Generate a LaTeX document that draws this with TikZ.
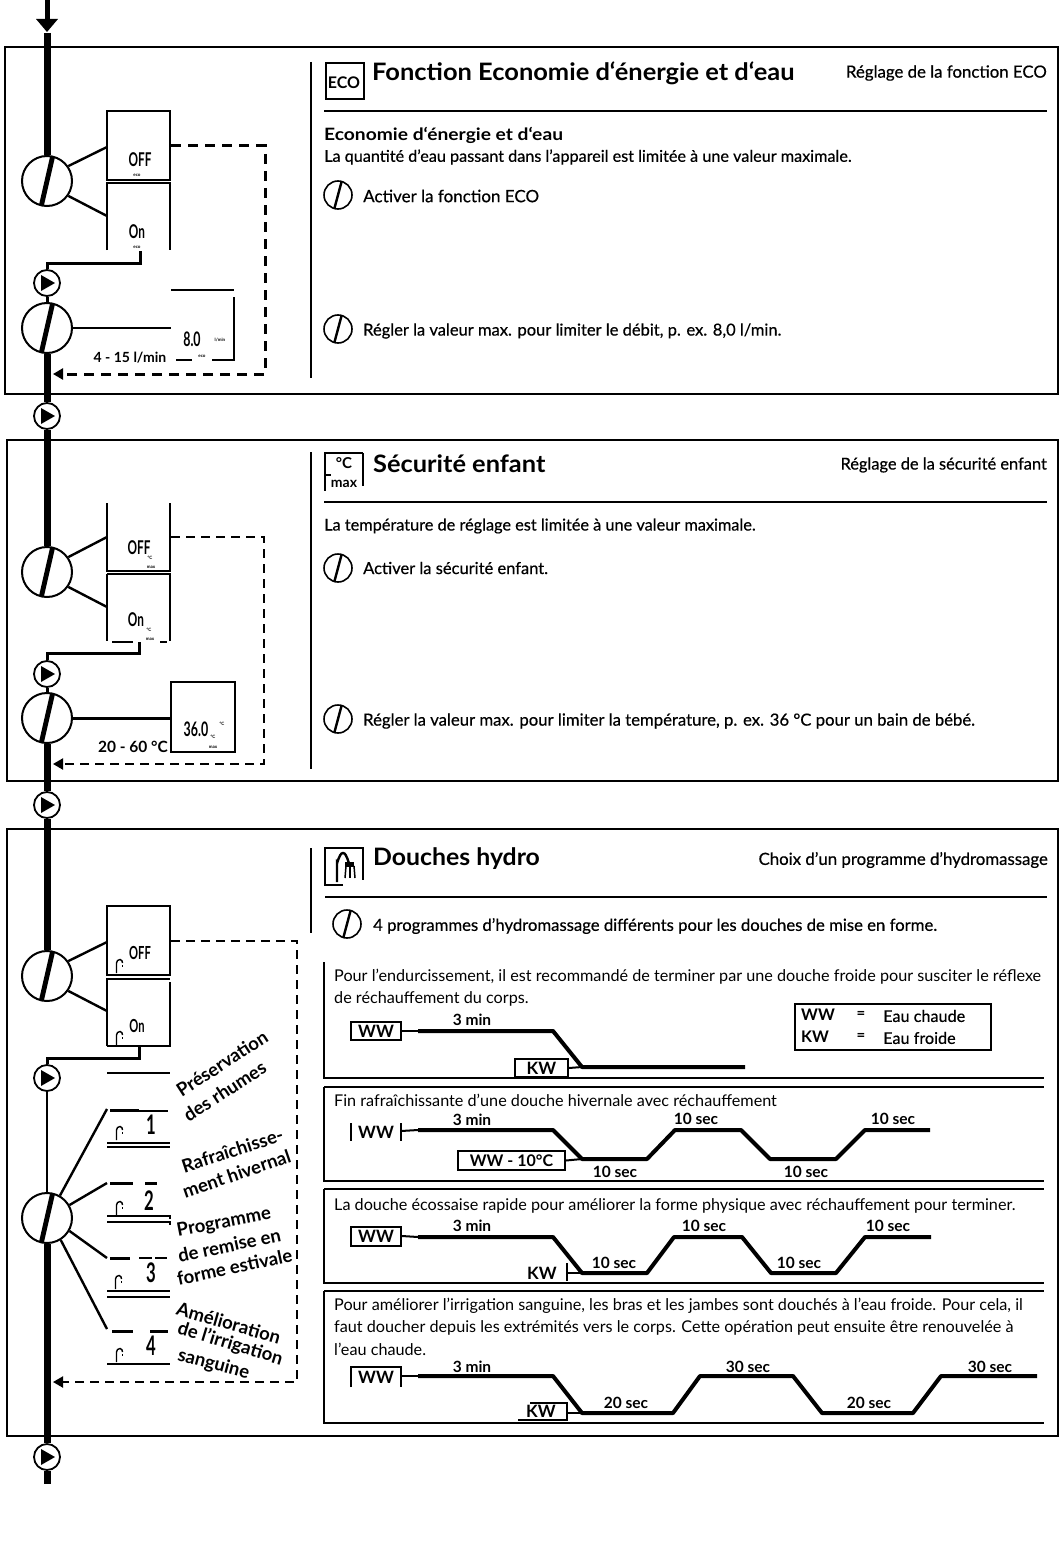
\documentclass[tikz,border=0pt]{standalone}
\usepackage{fontspec}
\setmainfont{Lato}
\newfontfamily\lsemi[FakeBold=0.5]{Lato}
\usetikzlibrary{arrows.meta,calc}
\newcommand{\lcd}[2][14]{\scalebox{0.62}[1]{\fontsize{#1}{#1}\selectfont\bfseries #2}}
\newcommand{\sx}[2]{\scalebox{#1}[1]{#2}}
\newcommand{\semi}[2]{{\fontsize{#1}{18}\selectfont\lsemi #2}}
\tikzset{
 frame/.style={draw,line width=2pt,fill=none},
 flow/.style={line width=7pt},
 wire/.style={line width=2.4pt},
 thinwire/.style={line width=2pt},
 dash3/.style={line width=3pt,dash pattern=on 10pt off 7pt},
 dash2/.style={line width=2pt,dash pattern=on 9pt off 6pt},
 darrow/.style={-{Triangle[length=10pt,width=11pt]}},
 valve/.style={circle,draw,line width=2pt,fill=white,minimum size=50pt,inner sep=0pt,
  path picture={\fill[black] ([xshift=8pt,yshift=24pt]path picture bounding box.center) -- ([xshift=3pt,yshift=24pt]path picture bounding box.center) -- ([xshift=-8pt,yshift=-24pt]path picture bounding box.center) -- ([xshift=-3pt,yshift=-24pt]path picture bounding box.center) -- cycle;}},
 knob/.style={circle,draw,line width=1.6pt,fill=white,minimum size=28pt,inner sep=0pt,
  path picture={\fill[black] ([xshift=5pt,yshift=14pt]path picture bounding box.center) -- ([xshift=2.5pt,yshift=14pt]path picture bounding box.center) -- ([xshift=-5pt,yshift=-14pt]path picture bounding box.center) -- ([xshift=-2.5pt,yshift=-14pt]path picture bounding box.center) -- cycle;}},
 play/.style={circle,draw,line width=1.8pt,fill=white,minimum size=26pt,inner sep=0pt,
  path picture={\fill[black] ([xshift=-6pt,yshift=8pt]path picture bounding box.center) -- ([xshift=8pt]path picture bounding box.center) -- ([xshift=-6pt,yshift=-8pt]path picture bounding box.center) -- cycle;}},
 txt/.style={anchor=west,inner sep=0pt,yshift=-1pt},
 rtxt/.style={anchor=east,inner sep=0pt,yshift=-1pt},
 btxt/.style={anchor=west,inner sep=0pt,yshift=-1pt,font=\fontsize{17}{18}\selectfont\bfseries},
 title/.style={anchor=west,inner sep=0pt,yshift=-2pt,font=\fontsize{24}{26}\selectfont\bfseries},
 ptxt/.style={anchor=west,inner sep=0pt,yshift=-1pt,font=\fontsize{16.2}{18}\selectfont},
 tlab/.style={inner sep=0pt,font=\fontsize{15.5}{18}\selectfont\bfseries},
 wwbox/.style={draw,line width=2pt,inner sep=0pt,font=\fontsize{17}{18}\selectfont\bfseries,anchor=center},
 curve/.style={line width=4pt,line join=round},
 dtext/.style={inner sep=0pt},
 tiny/.style={inner sep=0pt,font=\fontsize{4.5}{5}\selectfont\bfseries},
 side/.style={inner sep=0pt,anchor=west,font=\fontsize{18.5}{25}\selectfont\bfseries},
 showr/.pic={\draw[line width=1.4pt] (-2.5,7) -- (-2.5,-3) to[out=90,in=180] (1,-6.5) to[out=0,in=90] (3.5,-3);\fill (2.5,-1) rectangle (4,1);},
 panel/.style={line width=2pt},
}
\begin{document}
\begin{tikzpicture}[x=1pt,y=-1pt]
\useasboundingbox (0,0) rectangle (1059,1541);
\fill[white] (0,0) rectangle (1059,1541);

% frames
\node[frame,anchor=north west,minimum width=1053pt,minimum height=347pt] (f1) at (4,46) {};
\node[frame,anchor=north west,minimum width=1051pt,minimum height=341pt] (f2) at (6,439) {};
\node[frame,anchor=north west,minimum width=1051pt,minimum height=607pt] (f3) at (6,828) {};

% main flow nodes
\node[valve] (v1) at (47,181) {};
\node[valve] (v2) at (47,328) {};
\node[play] (p1) at (47,283) {};
\node[play] (p2) at (47,416) {};
\node[valve] (v3) at (47,572) {};
\node[valve] (v4) at (47,718) {};
\node[play] (p3) at (47,674) {};
\node[play] (p4) at (47,805) {};
\node[valve] (v5) at (47,976) {};
\node[valve] (v6) at (47,1218) {};
\node[play] (p5) at (47,1078) {};
\node[play] (p6) at (47,1457) {};

\coordinate (start) at (47,0);
\coordinate (arrowtip) at (47,33);
\coordinate (last) at (47,1484);
\draw[line width=5pt] (start) -- (47,20);
\fill (36,19) -- (58,19) -- (47,32) -- cycle;
\draw[flow] (arrowtip) -- (v1.north);
\draw[line width=3pt] (p1.south) -- (v2.north);
\draw[flow] (v2.south) -- (p2.north);
\draw[flow] (p2.south) -- (v3.north);
\draw[line width=3pt] (p3.south) -- (v4.north);
\draw[flow] (v4.south) -- (p4.north);
\draw[flow] (p4.south) -- (v5.north);
\draw[thinwire] (p5.south) -- (v6.north);
\draw[flow] (v6.south) -- (p6.north);
\draw[flow] (p6.south) -- (last);

% separators
\draw[line width=2.6pt] (311,62) -- (311,378);
\draw[line width=2.6pt] (311,452) -- (311,769);
\draw[line width=2.6pt] (311,848) -- (311,933);

%% ---- section 1 left
\coordinate (d1tl) at (107,111);
\coordinate (d1tr) at (170,111);
\coordinate (d1bl) at (107,180);
\coordinate (d1br) at (170,180);
\coordinate (d2tl) at (107,183);
\coordinate (d2tr) at (170,183);
\coordinate (d2bl) at (107,250);
\coordinate (d2br) at (170,250);
\draw[thinwire] (d1bl) -- (d1tl) -- (d1tr) -- (d1br) -- cycle;
\draw[thinwire] (d2bl) -- (d2tl) -- (d2tr) -- (d2br);
\coordinate (c1a) at (107,147);
\coordinate (c1b) at (107,216);
\draw[wire] (v1.35) -- (c1a);
\draw[wire] (v1.-35) -- (c1b);
\node[dtext] (t1off) at (140,160) {\lcd[19]{OFF}};
\node[tiny] (t1e1) at (137,175) {eco};
\node[dtext] (t1on) at (137,232) {\lcd[19]{On}};
\node[tiny] (t1e2) at (137,247) {eco};
\coordinate (c1c) at (140,251);
\draw[line width=3pt] (c1c) -- (140,263) -- (47,263) -- (p1.north);
\draw[line width=2pt] (v2.east) -- (171,328);
\coordinate (d3a) at (171,290);
\coordinate (d3b) at (234,290);
\draw[thinwire] (d3a) -- (d3b);
\draw[thinwire] (234,297) -- (234,360) -- (212,360);
\draw[thinwire] (176,360) -- (192,360);
\node[dtext] (t18) at (192,339) {\lcd[20]{8.0}};
\node[tiny] (t1l) at (220,340) {l/min};
\node[tiny] (t1e3) at (202,356) {eco};
\node[inner sep=0pt,font=\fontsize{14}{16}\selectfont\bfseries] (t1r) at (130,358) {4 - 15 l/min};
\draw[dash3,darrow] (171,146) -- (265,146) -- (265,374) -- (53,374);

%% ---- section 2 left
\draw[thinwire] (107,503) -- (107,571) -- (170,571) -- (170,503);
\draw[thinwire] (107,574) -- (170,574) -- (170,641);
\draw[thinwire] (107,574) -- (107,641);
\draw[thinwire] (112,642) -- (133,642);
\draw[thinwire] (160,642) -- (167,642);
\coordinate (c2a) at (107,537);
\coordinate (c2b) at (107,607);
\draw[wire] (v3.35) -- (c2a);
\draw[wire] (v3.-35) -- (c2b);
\node[dtext] (t2off) at (139,548) {\lcd[19]{OFF}};
\node[tiny] (t2c1) at (150,558) {°C};
\node[tiny] (t2m1) at (151,567) {max};
\node[dtext] (t2on) at (136,620) {\lcd[19]{On}};
\node[tiny] (t2c2) at (149,630) {°C};
\node[tiny] (t2m2) at (150,639) {max};
\coordinate (c2c) at (139,642);
\draw[line width=3pt] (c2c) -- (139,653) -- (47,653) -- (p3.north);
\node[draw,line width=2pt,anchor=north west,minimum width=64pt,minimum height=70pt,inner sep=0pt] (d4) at (170,681) {};
\draw[line width=3pt] (v4.east) -- (d4.west |- v4.east);
\node[dtext] (t236) at (196,729) {\lcd[20]{36.0}};
\node[tiny] (t2c3) at (222,724) {°C};
\node[tiny] (t2c4) at (213,737) {°C};
\node[tiny] (t2m3) at (213,747) {max};
\node[inner sep=0pt,font=\fontsize{15.5}{16}\selectfont\bfseries] (t2r) at (133,747) {20 - 60 °C};
\draw[dash2,darrow] (171,537) -- (264,537) -- (264,764) -- (53,764);

%% ---- section 3 left
\draw[thinwire] (107,975) -- (107,906) -- (170,906) -- (170,975) -- cycle;
\draw[thinwire] (107,1046) -- (107,979) -- (170,979);
\draw[thinwire] (170,982) -- (170,1046) -- (107,1046);
\coordinate (c3a) at (107,942);
\coordinate (c3b) at (107,1011);
\draw[wire] (v5.35) -- (c3a);
\draw[wire] (v5.-35) -- (c3b);
\node[dtext] (t3off) at (140,953) {\lcd[18]{OFF}};
\pic at (119,966) {showr};
\node[dtext] (t3on) at (137,1026) {\lcd[18]{On}};
\pic at (119,1038) {showr};
\coordinate (c3c) at (139,1046);
\draw[line width=3pt] (c3c) -- (139,1058) -- (47,1058) -- (p5.north);
\draw[thinwire] (107,1073) -- (170,1073);
% program displays
\coordinate (c4a) at (107,1109);
\coordinate (c4b) at (107,1183);
\coordinate (c4c) at (107,1258);
\coordinate (c4d) at (107,1329);
\draw[wire] (v6.60) -- (c4a);
\draw[wire] (v6.30) -- (c4b);
\draw[wire] (v6.-30) -- (c4c);
\draw[wire] (v6.-58) -- (c4d);
\draw[line width=3pt] (110,1110) -- (139,1110);
\draw[thinwire] (139,1111) -- (168,1111);
\node[dtext] (tp1) at (151,1125) {\lcd[27]{1}};
\pic at (119,1133) {showr};
\draw[thinwire] (107,1143) -- (170,1143);
\draw[thinwire] (107,1147) -- (170,1147);
\draw[line width=3pt] (110,1183) -- (133,1183);
\draw[line width=3pt] (145,1183) -- (157,1183);
\node[dtext] (tp2) at (149,1201) {\lcd[27]{2}};
\pic at (119,1208) {showr};
\draw[thinwire] (107,1216) -- (170,1216) -- (170,1219);
\draw[thinwire] (107,1222) -- (170,1222) -- (170,1225);
\draw[line width=3pt] (110,1258) -- (130,1258);
\draw[thinwire] (139,1258) -- (152,1258);
\draw[thinwire] (155,1258) -- (167,1258);
\node[dtext] (tp3) at (151,1273) {\lcd[27]{3}};
\pic at (118,1282) {showr};
\draw[thinwire] (107,1291) -- (170,1291);
\draw[thinwire] (107,1297) -- (170,1297);
\draw[line width=3pt] (112,1331) -- (133,1331);
\draw[line width=3pt] (150,1331) -- (168,1331);
\node[dtext] (tp4) at (151,1346) {\lcd[27]{4}};
\pic at (119,1355) {showr};
\draw[thinwire] (107,1364) -- (170,1364);
\draw[dash2,darrow] (171,941) -- (297,941) -- (297,1382) -- (53,1382);
% rotated labels
\node[side,rotate=33] (s1a) at (178,1092) {Préservation};
\node[side,rotate=33] (s1b) at (185,1117) {des rhumes};
\node[side,rotate=18] (s2a) at (182,1167) {Rafraîchisse-};
\node[side,rotate=19] (s2b) at (183,1192) {ment hivernal};
\node[side,rotate=11] (s3a) at (177,1232) {Programme};
\node[side,rotate=12] (s3b) at (178,1256) {de remise en};
\node[side,rotate=12] (s3c) at (177,1279) {forme estivale};
\node[side,rotate=-16] (s4a) at (177,1308) {Amélioration};
\node[side,rotate=-17] (s4b) at (178,1328) {de l'irrigation};
\node[side,rotate=-15] (s4c) at (178,1355) {sanguine};

%% ---- section 1 right
\node[draw,line width=2pt,anchor=north west,minimum width=38pt,minimum height=36pt,inner sep=0pt] (ic1) at (325,62) {};
\node[inner sep=0pt,font=\fontsize{16}{18}\selectfont\bfseries] (ic1t) at (344,83) {ECO};
\node[title] (h1) at (372,71) {\sx{1.06}{Fonction Economie d‘énergie et d‘eau}};
\node[rtxt] (r1) at (1047,72) {\semi{16.8}{Réglage de la fonction ECO}};
\coordinate (ru1a) at (324,111); \coordinate (ru1b) at (1047,111);
\draw[line width=2pt] (ru1a) -- (ru1b);
\node[btxt] (b1) at (324,134) {\sx{1.13}{Economie d‘énergie et d‘eau}};
\node[txt] (b2) at (324,156) {\semi{16.2}{La quantité d’eau passant dans l’appareil est limitée à une valeur maximale.}};
\node[knob] (k1) at (338,195) {};
\node[txt] (b3) at (363,195) {\semi{17}{Activer la fonction ECO}};
\node[knob] (k2) at (338,329) {};
\node[txt] (b4) at (363,330) {\semi{16.5}{Régler la valeur max. pour limiter le débit, p. ex. 8,0 l/min.}};

%% ---- section 2 right
\node[inner sep=0pt,font=\fontsize{15}{15}\selectfont\bfseries] (ic2a) at (344,463) {°C};
\node[inner sep=0pt,font=\fontsize{14}{15}\selectfont\bfseries] (ic2b) at (344,484) {max};
\draw[line width=2pt] (363,453) -- (325,453) -- (325,491);
\draw[line width=2pt] (325,475) -- (331,475);
\draw[line width=2pt] (363,453) -- (363,486);
\node[title] (h2) at (373,462) {\sx{1.058}{Sécurité enfant}};
\node[rtxt] (r2) at (1047,464) {\semi{16.4}{Réglage de la sécurité enfant}};
\coordinate (ru2a) at (324,502); \coordinate (ru2b) at (1047,502);
\draw[line width=2pt] (ru2a) -- (ru2b);
\node[txt] (b5) at (324,525) {\semi{16.3}{La température de réglage est limitée à une valeur maximale.}};
\node[knob] (k3) at (338,568) {};
\node[txt] (b6) at (363,567) {\semi{16.5}{Activer la sécurité enfant.}};
\node[knob] (k4) at (338,719) {};
\node[txt] (b7) at (363,720) {\semi{16.7}{Régler la valeur max. pour limiter la température, p. ex. 36 °C pour un bain de bébé.}};

%% ---- section 3 right
\draw[line width=2pt] (343,885) -- (325,885) -- (325,848) -- (363,848) -- (363,880);
\draw[line width=2.4pt] (337,882) -- (337,862) to[out=-90,in=180] (343,853) to[out=0,in=-90] (349,862);
\fill (345,862) rectangle (354,867);
\draw[line width=1.5pt] (346,866) -- (345,878);
\draw[line width=1.5pt] (350,866) -- (350,878);
\draw[line width=1.5pt] (354,866) -- (355,878);
\node[title] (h3) at (373,857) {\sx{1.034}{Douches hydro}};
\node[rtxt] (r3) at (1048,859) {\semi{16.8}{Choix d’un programme d’hydromassage}};
\coordinate (ru3a) at (325,897); \coordinate (ru3b) at (1047,897);
\draw[line width=2pt] (ru3a) -- (ru3b);
\node[knob] (k5) at (347,924) {};
\node[txt] (b8) at (373,925) {\semi{16.7}{4 programmes d’hydromassage différents pour les douches de mise en forme.}};

% panels
\draw[panel] (324,962) -- (324,1078) -- (1044,1078);
\draw[panel] (324,1087) -- (324,1181) -- (1044,1181);
\draw[panel] (324,1087) -- (1044,1087);
\draw[panel] (324,1189) -- (324,1283) -- (1044,1283);
\draw[panel] (324,1189) -- (1044,1189);
\draw[panel] (324,1291) -- (324,1423) -- (1044,1423);
\draw[panel] (324,1291) -- (1044,1291);

% panel 1
\node[ptxt] (q1) at (334,976) {Pour l'endurcissement, il est recommandé de terminer par une douche froide pour susciter le réflexe};
\node[ptxt] (q2) at (334,998) {de réchauffement du corps.};
\node[wwbox,minimum width=50pt,minimum height=18pt] (ww1) at (376,1031) {WW};
\node[wwbox,minimum width=53pt,minimum height=18pt] (kw1) at (541.5,1068) {KW};
\coordinate (a1) at (418,1031);
\coordinate (e1) at (745,1067);
\coordinate (b1low) at (582,1067);
\draw[thinwire] (ww1.east) -- (a1);
\draw[thinwire] (kw1.east) -- (b1low);
\draw[curve] (a1) -- (553,1031) -- (b1low) -- (e1);
\node[tlab] (l11) at (472,1020) {3 min};
\node[draw,line width=2pt,anchor=north west,minimum width=196pt,minimum height=46pt,inner sep=0pt] (leg) at (794,1003) {};
\node[anchor=west,inner sep=0pt,font=\fontsize{16}{18}\selectfont\bfseries] (lg1) at (801,1015) {WW};
\node[anchor=west,inner sep=0pt,font=\fontsize{16}{18}\selectfont\bfseries] (lg2) at (801,1037) {KW};
\node[inner sep=0pt,font=\fontsize{15}{18}\selectfont\bfseries] (lg3) at (861,1015) {=};
\node[inner sep=0pt,font=\fontsize{15}{18}\selectfont\bfseries] (lg4) at (861,1037) {=};
\node[txt] (lg5) at (883,1015) {\semi{16.2}{Eau chaude}};
\node[txt] (lg6) at (883,1037) {\semi{16.2}{Eau froide}};

% panel 2
\node[ptxt] (q3) at (334,1099) {Fin rafraîchissante d'une douche hivernale avec réchauffement};
\coordinate (ww2e) at (401,1131);
\draw[thinwire] (351,1123) -- (351,1141);
\draw[thinwire] (401,1123) -- (401,1141);
\node[inner sep=0pt,font=\fontsize{17}{18}\selectfont\bfseries] (ww2) at (376,1132) {WW};
\node[wwbox,minimum width=107pt,minimum height=19pt,font=\fontsize{16}{18}\selectfont\bfseries] (kw2) at (511.5,1160.5) {WW - 10°C};
\coordinate (a2) at (418,1130);
\coordinate (b2low) at (582,1159);
\draw[thinwire] (ww2e) -- (a2);
\draw[thinwire] (kw2.east) -- (b2low);
\draw[curve] (a2) -- (553,1130) -- (b2low) -- (647,1159) -- (675,1130) -- (741,1130) -- (770,1159) -- (836,1159) -- (865,1130) -- (930,1130);
\node[tlab] (l21) at (472,1120) {3 min};
\node[tlab] (l22) at (696,1119) {10 sec};
\node[tlab] (l23) at (893,1119) {10 sec};
\node[tlab] (l24) at (615,1172) {10 sec};
\node[tlab] (l25) at (806,1172) {10 sec};

% panel 3
\node[ptxt] (q4) at (334,1205) {La douche écossaise rapide pour améliorer la forme physique avec réchauffement pour terminer.};
\node[wwbox,minimum width=50pt,minimum height=19pt] (ww3) at (376,1236) {WW};
\node[inner sep=0pt,font=\fontsize{17}{18}\selectfont\bfseries] (kw3) at (542,1273) {KW};
\coordinate (a3) at (418,1237);
\coordinate (b3low) at (582,1273);
\coordinate (k3t) at (567,1273);
\draw[thinwire] (ww3.east) -- (a3);
\draw[thinwire] (567,1263) -- (567,1281);
\draw[thinwire] (k3t) -- (b3low);
\draw[curve] (a3) -- (553,1237) -- (b3low) -- (647,1273) -- (674,1237) -- (742,1237) -- (771,1273) -- (836,1273) -- (865,1237) -- (931,1237);
\node[tlab] (l31) at (472,1226) {3 min};
\node[tlab] (l32) at (704,1226) {10 sec};
\node[tlab] (l33) at (888,1226) {10 sec};
\node[tlab] (l34) at (614,1263) {10 sec};
\node[tlab] (l35) at (799,1263) {10 sec};

% panel 4
\node[ptxt] (q5) at (334,1305) {Pour améliorer l'irrigation sanguine, les bras et les jambes sont douchés à l'eau froide. Pour cela, il};
\node[ptxt] (q6) at (334,1327) {faut doucher depuis les extrémités vers le corps. Cette opération peut ensuite être renouvelée à};
\node[ptxt] (q7) at (334,1348) {l'eau chaude.};
\draw[thinwire] (351,1387) -- (351,1367) -- (401,1367) -- (401,1387);
\node[inner sep=0pt,font=\fontsize{17}{18}\selectfont\bfseries] (ww4) at (376,1377) {WW};
\coordinate (ww4e) at (401,1376);
\draw[thinwire] (530,1403) -- (567,1403) -- (567,1420) -- (518,1420);
\node[inner sep=0pt,font=\fontsize{17}{18}\selectfont\bfseries] (kw4) at (541,1411) {KW};
\coordinate (a4) at (418,1376);
\coordinate (b4low) at (582,1413);
\coordinate (k4t) at (567,1413);
\draw[thinwire] (ww4e) -- (a4);
\draw[thinwire] (k4t) -- (b4low);
\draw[curve] (a4) -- (553,1376) -- (b4low) -- (673,1413) -- (700,1376) -- (793,1376) -- (822,1413) -- (913,1413) -- (941,1376) -- (1037,1376);
\node[tlab] (l41) at (472,1367) {3 min};
\node[tlab] (l42) at (748,1367) {30 sec};
\node[tlab] (l43) at (990,1367) {30 sec};
\node[tlab] (l44) at (626,1403) {20 sec};
\node[tlab] (l45) at (869,1403) {20 sec};
\end{tikzpicture}
\end{document}
